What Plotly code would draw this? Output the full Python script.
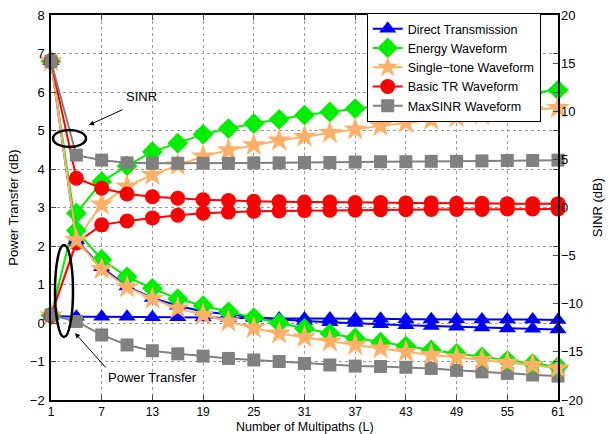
import plotly.graph_objects as go

# Number of multipaths L
multipaths = list(range(1, 62, 3))
x_ticks = list(range(1, 62, 6))

# Power transfer (dB), left axis
pt_direct = [0.18, 0.16, 0.16, 0.16, 0.15, 0.15, 0.14, 0.13, 0.13, 0.12, 0.12,
             0.12, 0.11, 0.11, 0.10, 0.10, 0.10, 0.09, 0.09, 0.09, 0.08]
pt_energy = [0.2, 2.85, 3.67, 4.08, 4.45, 4.67, 4.9, 5.05, 5.18, 5.29, 5.4,
             5.48, 5.57, 5.65, 5.72, 5.78, 5.83, 5.88, 5.93, 5.98, 6.05]
pt_single = [0.2, 2.15, 3.08, 3.55, 3.85, 4.1, 4.33, 4.49, 4.62, 4.74, 4.84,
             4.94, 5.03, 5.12, 5.2, 5.28, 5.35, 5.41, 5.48, 5.53, 5.59]
pt_basic_tr = [0.2, 2.08, 2.55, 2.65, 2.73, 2.8, 2.85, 2.88, 2.9, 2.91, 2.92,
               2.93, 2.93, 2.94, 2.94, 2.95, 2.95, 2.95, 2.96, 2.96, 2.96]
pt_maxsinr = [0.21, 0.04, -0.31, -0.57, -0.72, -0.8, -0.86, -0.92, -0.96, -1.0, -1.05,
              -1.09, -1.12, -1.13, -1.15, -1.18, -1.23, -1.27, -1.31, -1.35, -1.38]

# SINR (dB), right axis
sinr_direct = [15.2, -3.4, -6.2, -8.2, -9.4, -10.2, -10.8, -11.12, -11.4, -11.6, -11.8,
               -11.92, -12.0, -12.12, -12.24, -12.32, -12.4, -12.48, -12.56, -12.6, -12.68]
sinr_energy = [15.2, -2.4, -5.4, -7.2, -8.4, -9.48, -10.2, -10.84, -11.44, -12.0, -12.56,
               -13.08, -13.56, -14.0, -14.4, -14.8, -15.16, -15.52, -15.88, -16.2, -16.52]
sinr_single = [15.2, -3.4, -6.4, -8.28, -9.48, -10.48, -11.16, -11.84, -12.52, -13.08, -13.48,
               -13.92, -14.28, -14.64, -15.0, -15.32, -15.56, -15.84, -16.12, -16.36, -16.68]
sinr_basic_tr = [15.2, 3.04, 2.0, 1.4, 1.12, 0.96, 0.8, 0.72, 0.64, 0.6, 0.56,
                 0.56, 0.52, 0.52, 0.48, 0.48, 0.44, 0.44, 0.4, 0.4, 0.4]
sinr_maxsinr = [15.2, 5.44, 4.92, 4.64, 4.6, 4.6, 4.6, 4.6, 4.64, 4.64, 4.68,
                4.68, 4.72, 4.76, 4.76, 4.8, 4.8, 4.84, 4.88, 4.88, 4.92]

series = [
    ("Direct Transmission", pt_direct, sinr_direct, "#0000ff", "triangle-up", 15),
    ("Energy Waveform", pt_energy, sinr_energy, "#00ee00", "diamond", 16),
    ("Single\u2212tone Waveform", pt_single, sinr_single, "#ffb066", "star", 18),
    ("Basic TR Waveform", pt_basic_tr, sinr_basic_tr, "#ff0000", "circle", 15),
    ("MaxSINR Waveform", pt_maxsinr, sinr_maxsinr, "#808080", "square", 13),
]

FONT = "Liberation Sans, Arial, Helvetica, sans-serif"
FS = 13

# pixel geometry of the plotting area, used to place the callouts
X0_PX, X1_PX, Y0_PX, Y1_PX = 51, 558, 15, 400


def to_data(px, py):
    """Convert a pixel position inside the plotting area to (L, power transfer)."""
    lx = 1 + (px - X0_PX) * 60 / (X1_PX - X0_PX)
    ly = 8 - (py - Y0_PX) * 10 / (Y1_PX - Y0_PX)
    return lx, ly


fig = go.Figure()

for name, pt, _, color, symbol, size in series:
    fig.add_trace(go.Scatter(
        x=multipaths, y=pt, mode="lines+markers", name=name,
        line=dict(color=color, width=2),
        marker=dict(symbol=symbol, size=size, color=color, line=dict(width=0)),
        cliponaxis=False, showlegend=True,
    ))

for name, _, sinr, color, symbol, size in series:
    fig.add_trace(go.Scatter(
        x=multipaths, y=sinr, mode="lines+markers", name=name,
        line=dict(color=color, width=2),
        marker=dict(symbol=symbol, size=size, color=color, line=dict(width=0)),
        cliponaxis=False, showlegend=False, yaxis="y2",
    ))

# ellipses marking the SINR and power-transfer curve groups
ex0, ey1 = to_data(53, 130)
ex1, ey0 = to_data(86, 147)
fig.add_shape(type="circle", xref="x", yref="y", x0=ex0, x1=ex1, y0=ey0, y1=ey1,
              line=dict(color="black", width=2.5))
px0, py1 = to_data(55, 245)
px1, py0 = to_data(73, 337)
fig.add_shape(type="circle", xref="x", yref="y", x0=px0, x1=px1, y0=py0, y1=py1,
              line=dict(color="black", width=2.5))

# callout arrows and labels
head_x, head_y = to_data(89, 125)
fig.add_annotation(x=head_x, y=head_y, xref="x", yref="y", ax=35, ay=-16,
                   showarrow=True, arrowhead=2, arrowsize=1, arrowwidth=1,
                   arrowcolor="black", text="")
lx, ly = to_data(141, 96)
fig.add_annotation(x=lx, y=ly, xref="x", yref="y", text="SINR", showarrow=False,
                   font=dict(family=FONT, size=FS, color="black"))
head_x, head_y = to_data(75, 333)
fig.add_annotation(x=head_x, y=head_y, xref="x", yref="y", ax=32, ay=36,
                   showarrow=True, arrowhead=2, arrowsize=1, arrowwidth=1,
                   arrowcolor="black", text="")
lx, ly = to_data(152, 377)
fig.add_annotation(x=lx, y=ly, xref="x", yref="y", text="Power Transfer", showarrow=False,
                   font=dict(family=FONT, size=FS, color="black"))

# x-axis title, placed just under the tick labels
fig.add_annotation(x=0.5, y=-(426.5 - Y1_PX) / (Y1_PX - Y0_PX), xref="paper", yref="paper",
                   xanchor="center", yanchor="middle", showarrow=False,
                   text="Number of Multipaths (L)", font=dict(family=FONT, size=12.5))

grid = dict(showgrid=True, gridcolor="#999999", gridwidth=1, griddash="dot")

fig.update_layout(
    width=611, height=434,
    margin=dict(l=51, r=53, t=15, b=34),
    paper_bgcolor="white", plot_bgcolor="white",
    font=dict(family=FONT, size=FS, color="black"),
    xaxis=dict(range=[1, 61], tickvals=x_ticks, ticks="inside", ticklen=5,
               showline=True, linecolor="black", linewidth=1.5, mirror="ticks",
               zeroline=False, ticklabelstandoff=0, automargin=False,
               tickfont=dict(size=12),
               **grid),
    yaxis=dict(range=[-2, 8], dtick=1, ticks="inside", ticklen=5,
               showline=True, linecolor="black", linewidth=1.5, mirror="ticks",
               zeroline=False, ticklabelstandoff=2, automargin=False,
               title=dict(text="Power Transfer (dB)", standoff=8, font=dict(size=FS)),
               **grid),
    yaxis2=dict(range=[-20, 20], dtick=5, overlaying="y", side="right",
                ticks="inside", ticklen=5, showgrid=False, zeroline=False,
                showline=False, ticklabelstandoff=2, automargin=False,
                title=dict(text="SINR (dB)", standoff=10, font=dict(size=FS))),
    legend=dict(x=(366.7 - X0_PX) / (X1_PX - X0_PX), y=1.005,
                xanchor="left", yanchor="top",
                bgcolor="white", bordercolor="black", borderwidth=1,
                font=dict(family=FONT, size=FS - 0.5), tracegroupgap=0,
                itemwidth=30),
    showlegend=True,
)

fig.write_html("out.html")
